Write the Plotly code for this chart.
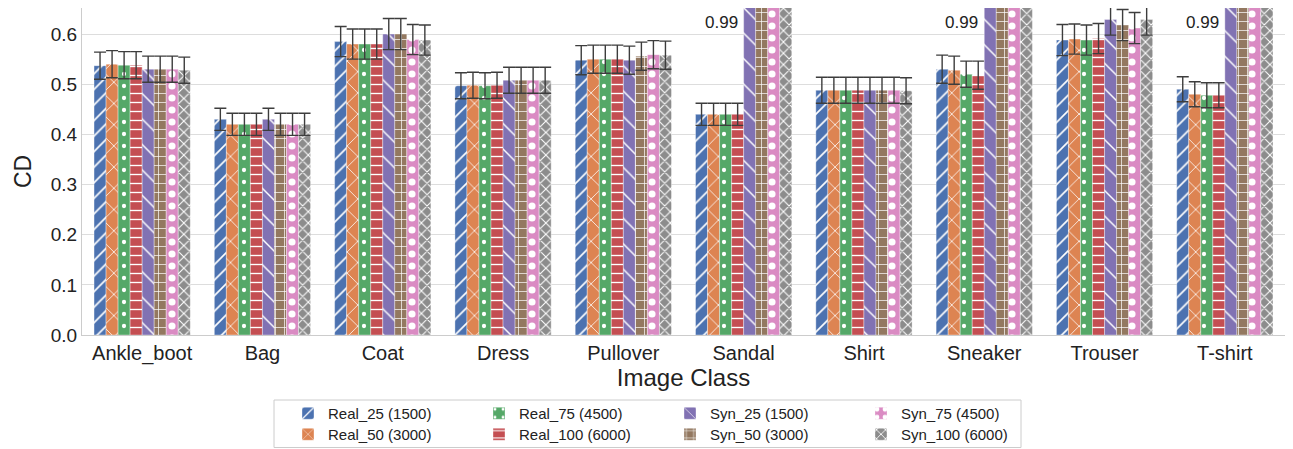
import plotly.graph_objects as go

categories = ["Ankle_boot", "Bag", "Coat", "Dress", "Pullover", "Sandal", "Shirt", "Sneaker", "Trouser", "T-shirt"]
series_names = ["Real_25 (1500)", "Real_50 (3000)", "Real_75 (4500)", "Real_100 (6000)",
                "Syn_25 (1500)", "Syn_50 (3000)", "Syn_75 (4500)", "Syn_100 (6000)"]

real_25 = [0.537, 0.430, 0.585, 0.497, 0.548, 0.440, 0.488, 0.530, 0.588, 0.490]
real_50 = [0.540, 0.420, 0.580, 0.498, 0.550, 0.440, 0.488, 0.528, 0.590, 0.480]
real_75 = [0.538, 0.420, 0.580, 0.497, 0.550, 0.440, 0.488, 0.520, 0.588, 0.478]
real_100 = [0.538, 0.420, 0.580, 0.498, 0.550, 0.440, 0.488, 0.518, 0.591, 0.478]
syn_25 = [0.530, 0.430, 0.600, 0.508, 0.548, 0.990, 0.488, 0.990, 0.629, 0.990]
syn_50 = [0.530, 0.420, 0.600, 0.508, 0.556, 0.990, 0.488, 0.990, 0.618, 0.990]
syn_75 = [0.530, 0.420, 0.589, 0.508, 0.559, 0.990, 0.488, 0.990, 0.612, 0.990]
syn_100 = [0.528, 0.420, 0.588, 0.508, 0.558, 0.990, 0.487, 0.990, 0.629, 0.990]

err_real_25 = [0.027, 0.022, 0.030, 0.026, 0.029, 0.022, 0.026, 0.028, 0.031, 0.025]
err_real_50 = [0.027, 0.022, 0.030, 0.026, 0.028, 0.022, 0.026, 0.028, 0.030, 0.025]
err_real_75 = [0.027, 0.022, 0.030, 0.026, 0.028, 0.022, 0.026, 0.026, 0.030, 0.025]
err_real_100 = [0.027, 0.022, 0.030, 0.026, 0.028, 0.022, 0.026, 0.028, 0.030, 0.025]
err_syn_25 = [0.026, 0.022, 0.031, 0.026, 0.028, 0.0, 0.026, 0.0, 0.031, 0.0]
err_syn_50 = [0.026, 0.022, 0.031, 0.026, 0.028, 0.0, 0.026, 0.0, 0.031, 0.0]
err_syn_75 = [0.026, 0.022, 0.030, 0.026, 0.028, 0.0, 0.026, 0.0, 0.031, 0.0]
err_syn_100 = [0.026, 0.022, 0.030, 0.026, 0.028, 0.0, 0.026, 0.0, 0.031, 0.0]

values = [real_25, real_50, real_75, real_100, syn_25, syn_50, syn_75, syn_100]
errors = [err_real_25, err_real_50, err_real_75, err_real_100, err_syn_25, err_syn_50, err_syn_75, err_syn_100]

colors = ["#4C72B0", "#DD8452", "#55A868", "#C44E52", "#8172B3", "#937860", "#DA8BC3", "#8C8C8C"]
patterns = [("/", 11, 0.15), ("x", 15, 0.1), (".", 12, 0.1), ("-", 9, 0.15),
            ("\\", 18, 0.08), ("+", 9, 0.15), (".", 12, 0.28), ("x", 8, 0.25)]
legend_ids = ["legend", "legend2", "legend", "legend2", "legend", "legend2", "legend", "legend2"]

annot_cats = ["Sandal", "Sneaker", "T-shirt"]
annot_value = 0.99

FONT = "Arial, Liberation Sans, sans-serif"
W, H = 1285, 441  # page body has an 8px margin

fig = go.Figure()
for name, vals, errs, col, pat, lg in zip(series_names, values, errors, colors, patterns, legend_ids):
    fig.add_trace(go.Bar(
        x=categories, y=vals, name=name, legend=lg,
        marker=dict(color=col, line=dict(color="rgba(255,255,255,0.6)", width=0.6),
                    pattern=dict(shape=pat[0], size=pat[1], solidity=pat[2],
                                 fgcolor="white", bgcolor=col, fillmode="replace")),
        error_y=dict(type="data", array=errs, visible=True, color="#3d3d3d",
                     thickness=1.4, width=6),
    ))

for c in annot_cats:
    fig.add_annotation(x=c, y=0.624, text=f"{annot_value:.2f}", showarrow=False,
                       xanchor="right", yanchor="middle", xshift=-4,
                       font=dict(family=FONT, size=17, color="#222222"))

# legend frame
fig.add_shape(type="rect", xref="paper", yref="paper",
              x0=(274 - 82) / 1203, x1=(1021 - 82) / 1203,
              y0=(335 - 447.5) / 327, y1=(335 - 400) / 327,
              line=dict(color="#cccccc", width=1), fillcolor="rgba(0,0,0,0)")

legend_common = dict(orientation="h", xref="container", yref="container",
                     xanchor="left", yanchor="top", entrywidth=146,
                     font=dict(family=FONT, size=15, color="#222222"),
                     bgcolor="rgba(0,0,0,0)", traceorder="normal", itemwidth=30)

fig.update_layout(
    width=W, height=H,
    margin=dict(l=74, r=8, t=0, b=114, autoexpand=False),
    paper_bgcolor="white", plot_bgcolor="white",
    barmode="group", bargap=0.2, bargroupgap=0,
    font=dict(family=FONT, color="#222222"),
    legend=dict(x=280 / W, y=1 - 389 / H, **legend_common),
    legend2=dict(x=280 / W, y=1 - 410 / H, **legend_common),
    xaxis=dict(title=dict(text="Image Class", font=dict(size=24), standoff=4),
               tickfont=dict(size=20), showline=True, linecolor="#cccccc", mirror=True,
               ticks="", showgrid=False),
    yaxis=dict(title=dict(text="CD", font=dict(size=23), standoff=12),
               range=[0, 0.652], tickvals=[0, 0.1, 0.2, 0.3, 0.4, 0.5, 0.6], tickformat=".1f",
               tickfont=dict(size=19), showline=True, linecolor="#cccccc", mirror=True,
               gridcolor="#dddddd", gridwidth=1, ticks="", zeroline=False),
)

fig.write_html("out.html")
